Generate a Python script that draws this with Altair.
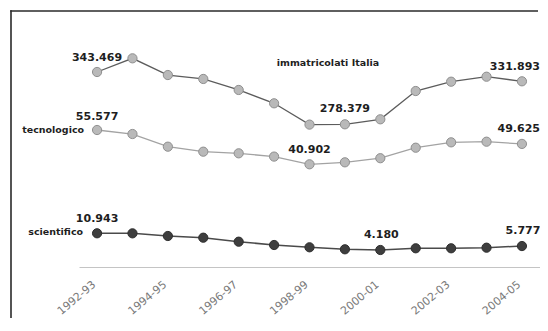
import altair as alt
import pandas as pd

years = ["1992-93", "1993-94", "1994-95", "1995-96", "1996-97", "1997-98", "1998-99",
         "1999-00", "2000-01", "2001-02", "2002-03", "2003-04", "2004-05"]
shown_years = ["1992-93", "1994-95", "1996-97", "1998-99", "2000-01", "2002-03", "2004-05"]
series_names = ["immatricolati Italia", "tecnologico", "scientifico"]

# values in thousands (Italian notation: 343.469 = 343,469)
immatricolati = [343.469, 360.5, 339.7, 334.8, 321.1, 304.5, 278.0, 278.379, 284.6, 319.8, 331.4, 337.6, 331.893]
tecnologico = [55.577, 53.86, 48.44, 46.3, 45.6, 44.2, 40.902, 41.75, 43.5, 48.0, 50.3, 50.57, 49.625]
scientifico = [10.943, 10.92, 9.85, 9.16, 7.54, 6.2, 5.27, 4.46, 4.180, 4.87, 4.87, 5.11, 5.777]

# each series sits in its own band of the chart: independent y scales
domains = {
    "immatricolati Italia": [100.78, 408.185],
    "tecnologico": [-3.045, 102.646],
    "scientifico": [-2.71, 97.33],
}

rows = []
for name, vals in zip(series_names, [immatricolati, tecnologico, scientifico]):
    for y, v in zip(years, vals):
        rows.append({"series": name, "year": y, "value": v})
df = pd.DataFrame(rows)

W, H = 461, 247
PAD = {"left": 71, "top": 12, "right": 0, "bottom": 51}

x_enc = alt.X(
    "year:N",
    sort=years,
    scale=alt.Scale(type="point", padding=0.51),
    axis=alt.Axis(
        values=shown_years, labelAngle=320, ticks=False, grid=False, title=None,
        domainColor="#c4c4c4", domainWidth=1, labelColor="#7a7a7a",
        labelFont="DejaVu Sans", labelFontSize=11, labelPadding=16, labelOffset=-3,
        labelAlign="right", labelBaseline="middle",
    ),
)


def yenc(name):
    return alt.Y("value:Q", scale=alt.Scale(domain=domains[name], nice=False, zero=False), axis=None)


styles = {
    "immatricolati Italia": dict(line="#5c5c5c", fill="#b9b9b9", stroke="#8f8f8f", lw=1.3),
    "tecnologico": dict(line="#a3a3a3", fill="#b9b9b9", stroke="#8f8f8f", lw=1.3),
    "scientifico": dict(line="#4a4a4a", fill="#3e3e3e", stroke="#2e2e2e", lw=1.5),
}

layers = []
for name in series_names:
    s = styles[name]
    base = alt.Chart(df).transform_filter(alt.datum.series == name)
    layers.append(base.mark_line(color=s["line"], strokeWidth=s["lw"]).encode(x=x_enc, y=yenc(name)))
    layers.append(base.mark_point(filled=True, size=85, fill=s["fill"], stroke=s["stroke"],
                                  strokeWidth=1, opacity=1).encode(x=x_enc, y=yenc(name)))


def label(name, year, dx=0, dy=-14, align="center", text=None, size=11):
    base = alt.Chart(df).transform_filter(
        (alt.datum.series == name) & (alt.datum.year == year))
    t = alt.value(text) if text is not None else alt.Text("value:Q", format=".3f")
    return base.mark_text(font="DejaVu Sans", fontWeight="bold", fontSize=size, color="#1e1e1e",
                          align=align, baseline="middle", dx=dx, dy=dy).encode(
        x=x_enc, y=yenc(name), text=t)


top, mid, bot = series_names
layers += [
    label(top, "1992-93", dx=25, dy=-14, align="right"),
    label(top, "1999-00", dx=0, dy=-15),
    label(top, "2004-05", dx=18, dy=-14.5, align="right"),
    label(top, "1999-00", dx=-17, dy=-61, text=top, size=9.5),
    label(mid, "1992-93", dx=0, dy=-13.5),
    label(mid, "1998-99", dx=0, dy=-14),
    label(mid, "2004-05", dx=18, dy=-15, align="right"),
    label(mid, "1992-93", dx=-13, dy=0, align="right", text=mid, size=9.5),
    label(bot, "1992-93", dx=0, dy=-14),
    label(bot, "2000-01", dx=1, dy=-14.5),
    label(bot, "2004-05", dx=1, dy=-15),
    label(bot, "1992-93", dx=-14, dy=-1, align="right", text=bot, size=9.5),
]

# frame of the original figure (left and top edges), as thin filled bars
one = pd.DataFrame({"k": [0]})
frame_left = alt.Chart(one).mark_rect(color="#2a2a2a").encode(
    x=alt.value(-68.8), x2=alt.value(-67.2), y=alt.value(-9.8), y2=alt.value(300))
frame_top = alt.Chart(one).mark_rect(color="#2a2a2a").encode(
    x=alt.value(-68.8), x2=alt.value(459), y=alt.value(-9.8), y2=alt.value(-8.2))
layers += [frame_left, frame_top]

chart = alt.layer(*layers).resolve_scale(y="independent").properties(
    width=W, height=H, padding=PAD, autosize=alt.AutoSizeParams(type="none"),
    background="white",
).configure_view(stroke=None)

chart.save("out.html", embed_options={"renderer": "svg", "actions": False})
